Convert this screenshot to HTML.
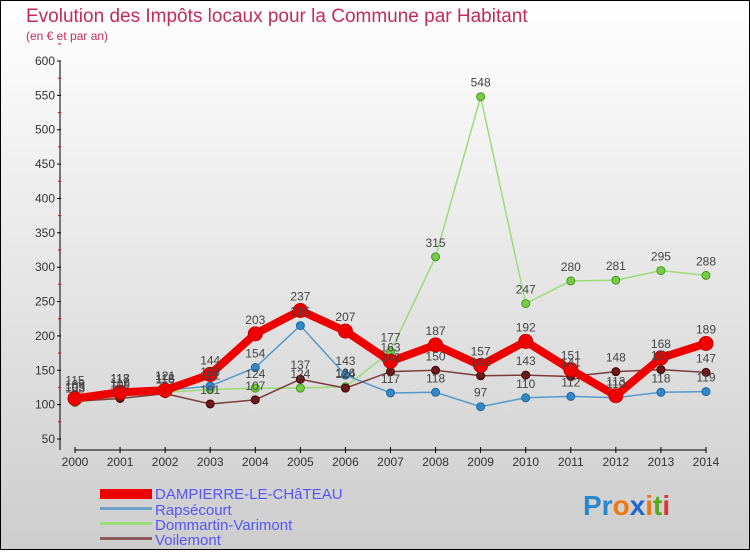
<!DOCTYPE html>
<html><head><meta charset="utf-8"><style>
body{margin:0;width:750px;height:550px;overflow:hidden;font-family:"Liberation Sans",sans-serif}
</style></head><body>
<svg width="750" height="550" xmlns="http://www.w3.org/2000/svg">
<defs><linearGradient id="bg" x1="0" y1="0" x2="0" y2="1"><stop offset="0" stop-color="#ffffff"/><stop offset="1" stop-color="#cdcdcd"/></linearGradient></defs>
<rect x="0.5" y="0.5" width="749" height="549" fill="url(#bg)" stroke="#000"/>
<text x="26" y="22" font-size="19" fill="#c8285a">Evolution des Impôts locaux pour la Commune par Habitant</text>
<text x="26" y="40" font-size="12" fill="#c8285a">(en € et par an)</text>
<g id="axes"></g><g id="series"></g><g id="labels"></g>
<g font-size="15" fill="#5555ff">
<rect x="100" y="489" width="52" height="10" fill="#ee0000"/>
<text x="155" y="499">DAMPIERRE-LE-CHâTEAU</text>
<rect x="100" y="507" width="52" height="3" fill="#6fa0c8"/>
<text x="155" y="515">Rapsécourt</text>
<rect x="100" y="522" width="52" height="3" fill="#99dd77"/>
<text x="155" y="530">Dommartin-Varimont</text>
<rect x="100" y="537" width="52" height="3" fill="#8b5a5a"/>
<text x="155" y="545">Voilemont</text>
</g>
<g font-size="28" font-weight="bold">
<text x="583" y="515"><tspan fill="#2a88cc">Pr</tspan><tspan fill="#ee7711">o</tspan><tspan fill="#2266cc">x</tspan><tspan fill="#ee7711">i</tspan><tspan fill="#55aa22">t</tspan><tspan fill="#dd3333">i</tspan></text>
</g>
</svg>
<script>
const years=[2000,2001,2002,2003,2004,2005,2006,2007,2008,2009,2010,2011,2012,2013,2014];
const yTicks=[50,100,150,200,250,300,350,400,450,500,550,600];
const dampierre=[109,118,121,144,203,237,207,163,187,157,192,151,113,168,189];
const rapsecourt=[115,117,121,127,154,215,143,117,118,97,110,112,110,118,119];
const dommartin=[103,112,118,122,124,124,126,177,315,548,247,280,281,295,288];
const voilemont=[105,109,116,101,107,137,124,148,150,142,143,141,148,151,147];
const NS="http://www.w3.org/2000/svg";
function x(i){return 75+i*(706-75)/(years.length-1);}
function y(v){return 439-(v-50)*(439-61)/550;}
function mk(tag,attrs,parent){const e=document.createElementNS(NS,tag);for(const k in attrs)e.setAttribute(k,attrs[k]);parent.appendChild(e);return e;}
const ax=document.getElementById('axes');
let l=mk('line',{x1:60,y1:61,x2:60,y2:450,stroke:'#000'},ax);


l=mk('line',{x1:75,y1:450,x2:706,y2:450,stroke:'#000'},ax);


yTicks.forEach(v=>{
 mk('line',{x1:57,y1:y(v),x2:61,y2:y(v),stroke:'#000'},ax);
 mk('line',{x1:58,y1:y(v+25),x2:61,y2:y(v+25),stroke:'#e00'},ax);
 const t=mk('text',{x:55,y:y(v)+4,'text-anchor':'end','font-size':12,fill:'#333'},ax);t.textContent=v;
 
 
});
years.forEach((yr,i)=>{
 mk('line',{x1:x(i),y1:447,x2:x(i),y2:453,stroke:'#000'},ax);
 const t=mk('text',{x:x(i),y:466,'text-anchor':'middle','font-size':12,fill:'#333'},ax);t.textContent=yr;
 
 
});
const sg=document.getElementById('series'),lg=document.getElementById('labels');
function draw(vals,name,color,w,r,mcol,stroke){
 const g=mk('g',{},sg);
 
 
 const p=mk('polyline',{points:vals.map((v,i)=>x(i)+','+y(v)).join(' '),fill:'none',stroke:color,'stroke-width':w,'stroke-linejoin':'round'},g);
 
 
 vals.forEach((v,i)=>{
  const c=mk('circle',{cx:x(i),cy:y(v),r:r,fill:mcol,stroke:stroke,'stroke-width':1},g);
  
  
  const t=mk('text',{x:x(i),y:y(v)-10,'text-anchor':'middle','font-size':12,fill:'#444'},lg);t.textContent=v;
  
  
 });
}
draw(dommartin,'dommartin','#99dd77',1.5,4,'#77cc44','#449922');
draw(rapsecourt,'rapsecourt','#5599cc',1.5,4,'#3388cc','#226699');
draw(voilemont,'voilemont','#7a3a3a',1.5,4,'#6a1a1a','#440000');
draw(dampierre,'dampierre','#ee0000',8,7,'#ee0000','#cc0000');
</script>
</body></html>
